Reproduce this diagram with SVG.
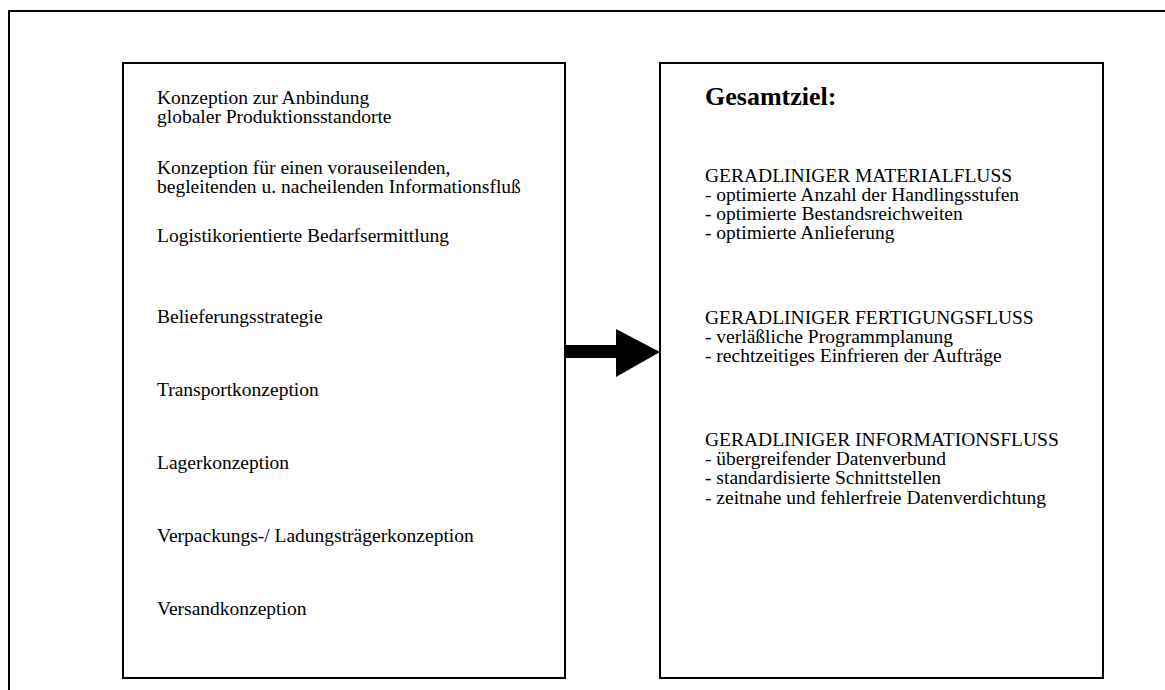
<svg xmlns="http://www.w3.org/2000/svg" width="1165" height="690" viewBox="0 0 1165 690">
<style>
.t{font-family:"Liberation Serif","Times New Roman",serif;font-size:19.5px;fill:#000}
.h{font-family:"Liberation Serif","Times New Roman",serif;font-size:26px;font-weight:bold;fill:#000}
.box{fill:#fff;stroke:#000;stroke-width:2}
</style>
<rect width="1165" height="690" fill="#fff"/>
<path d="M9,692 V11 H1167" fill="none" stroke="#000" stroke-width="2"/>
<g id="left-box">
<rect class="box" x="123" y="63" width="442" height="615"/>
<text class="t" x="157" y="104">Konzeption zur Anbindung</text>
<text class="t" x="157" y="123">globaler Produktionsstandorte</text>
<text class="t" x="157" y="174">Konzeption für einen vorauseilenden,</text>
<text class="t" x="157" y="193">begleitenden u. nacheilenden Informationsfluß</text>
<text class="t" x="157" y="242">Logistikorientierte Bedarfsermittlung</text>
<text class="t" x="157" y="323">Belieferungsstrategie</text>
<text class="t" x="157" y="396">Transportkonzeption</text>
<text class="t" x="157" y="469">Lagerkonzeption</text>
<text class="t" x="157" y="542">Verpackungs-/ Ladungsträgerkonzeption</text>
<text class="t" x="157" y="615">Versandkonzeption</text>
</g>
<g id="right-box">
<rect class="box" x="660" y="63" width="443" height="615"/>
<text class="h" x="705" y="105">Gesamtziel:</text>
<text class="t" x="705" y="182">GERADLINIGER MATERIALFLUSS</text>
<text class="t" x="705" y="201">- optimierte Anzahl der Handlingsstufen</text>
<text class="t" x="705" y="220">- optimierte Bestandsreichweiten</text>
<text class="t" x="705" y="239">- optimierte Anlieferung</text>
<text class="t" x="705" y="324">GERADLINIGER FERTIGUNGSFLUSS</text>
<text class="t" x="705" y="343">- verläßliche Programmplanung</text>
<text class="t" x="705" y="362">- rechtzeitiges Einfrieren der Aufträge</text>
<text class="t" x="705" y="446">GERADLINIGER INFORMATIONSFLUSS</text>
<text class="t" x="705" y="465">- übergreifender Datenverbund</text>
<text class="t" x="705" y="484">- standardisierte Schnittstellen</text>
<text class="t" x="705" y="504">- zeitnahe und fehlerfreie Datenverdichtung</text>
</g>
<g id="connectors">
<polygon points="565,345 616,345 616,329 660,352 616,377 616,358 565,358" fill="#000"/>
</g>
</svg>
